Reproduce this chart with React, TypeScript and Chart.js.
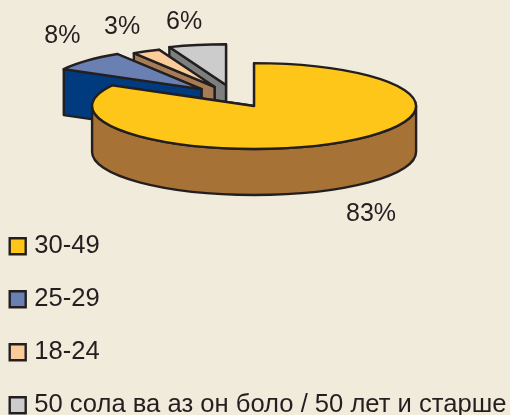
import React, { useEffect, useRef } from "react";
import { Chart, registerables } from "chart.js";

Chart.register(...registerables);

const categories = ["30-49", "25-29", "18-24", "50 сола ва аз он боло / 50 лет и старше"];
const shares = [83, 8, 3, 6];
const topColors = ["#fdc618", "#6b80b2", "#fbcc9a", "#cccccc"];
const wallColors = ["#a67236", "#003b7f", "#a57c56", "#7d7f7f"];
const sliceOffsets = [150, 184, 180, 192];
const rimScales = [1, 0.97, 0.93, 0.95];
const labelNudges = [
  [34.5, 71],
  [-24.5, -25],
  [-24, -24.6],
  [-13, -23],
];

const BG = "#f0ebdb";
const INK = "#231f20";
const PIE_X = 235;
const PIE_Y = 97.5;
const SQUASH = 0.265;
const DEPTH = 46;

const pie3d = {
  id: "pie3d",
  afterLayout(chart: any) {
    const pad = chart.legend.options.labels.padding;
    chart.legend.left = 14 - pad;
    chart.legend.top = 233.5 - pad;
    chart.legend.bottom = 700;
    chart.legend.right = 700;
  },
  beforeDatasetDraw(chart: any, args: any) {
    const ctx = chart.ctx as CanvasRenderingContext2D;
    const arcs = args.meta.data;
    const geo = (arc: any, i: number) => {
      const mid = (arc.startAngle + arc.endAngle) / 2;
      const off = (arc.options.offset || 0) / 4;
      return {
        cx: PIE_X + Math.cos(mid) * off,
        cy: PIE_Y + Math.sin(mid) * off * SQUASH,
        rx: arc.outerRadius * rimScales[i],
        ry: arc.outerRadius * rimScales[i] * SQUASH,
        mid,
      };
    };
    ctx.save();
    ctx.lineJoin = "round";
    for (const i of [3, 2, 1, 0]) {
      const arc = arcs[i];
      const { cx, cy, rx, ry } = geo(arc, i);
      const a0 = arc.startAngle;
      const a1 = arc.endAngle;
      const pt = (a: number) => [cx + Math.cos(a) * rx, cy + Math.sin(a) * ry];
      ctx.lineWidth = arc.options.borderWidth;
      ctx.strokeStyle = INK;
      ctx.fillStyle = wallColors[i];
      for (const a of [a1, a0]) {
        const [px, py] = pt(a);
        ctx.beginPath();
        ctx.moveTo(cx, cy);
        ctx.lineTo(px, py);
        ctx.lineTo(px, py + DEPTH);
        ctx.lineTo(cx, cy + DEPTH);
        ctx.closePath();
        ctx.fill();
        ctx.stroke();
      }
      const f0 = Math.max(a0, 0);
      const f1 = Math.min(a1, Math.PI);
      if (f1 > f0) {
        ctx.beginPath();
        ctx.ellipse(cx, cy, rx, ry, 0, f0, f1);
        ctx.ellipse(cx, cy + DEPTH, rx, ry, 0, f1, f0, true);
        ctx.closePath();
        ctx.fill();
        ctx.stroke();
      }
      ctx.fillStyle = arc.options.backgroundColor;
      ctx.beginPath();
      ctx.moveTo(cx, cy);
      ctx.ellipse(cx, cy, rx, ry, 0, a0, a1);
      ctx.closePath();
      ctx.fill();
      ctx.stroke();
    }
    ctx.fillStyle = INK;
    ctx.font = "25px 'Liberation Sans'";
    ctx.textAlign = "center";
    ctx.textBaseline = "middle";
    arcs.forEach((arc: any, i: number) => {
      const { cx, cy, rx, ry, mid } = geo(arc, i);
      const x = cx + Math.cos(mid) * rx + labelNudges[i][0];
      const y = cy + Math.sin(mid) * ry + labelNudges[i][1];
      ctx.fillText(`${shares[i]}%`, x, y);
    });
    ctx.restore();
    return false;
  },
};

export default function App() {
  const ref = useRef<HTMLCanvasElement>(null);
  useEffect(() => {
    document.body.style.margin = "0";
    document.body.style.background = BG;
    const chart = new Chart(ref.current!, {
      type: "pie",
      data: {
        labels: categories,
        datasets: [
          {
            data: shares,
            backgroundColor: topColors,
            borderColor: INK,
            borderWidth: 2.4,
            offset: sliceOffsets,
          },
        ],
      },
      options: {
        responsive: false,
        animation: false,
        radius: 162,
        layout: { padding: 0 },
        plugins: {
          tooltip: { enabled: false },
          title: { display: false },
          legend: {
            position: "left",
            align: "start",
            maxWidth: 60,
            labels: {
              usePointStyle: true,
              pointStyle: "rect",
              boxWidth: 7.4,
              boxHeight: 16,
              padding: 27.4,
              color: INK,
              font: { family: "'Liberation Sans'", size: 25.6 },
            },
          },
        },
      } as any,
      plugins: [pie3d],
    } as any);
    return () => chart.destroy();
  }, []);
  return (
    <canvas
      ref={ref}
      width={510}
      height={415}
      style={{ display: "block", width: 510, height: 415, background: BG }}
    />
  );
}
